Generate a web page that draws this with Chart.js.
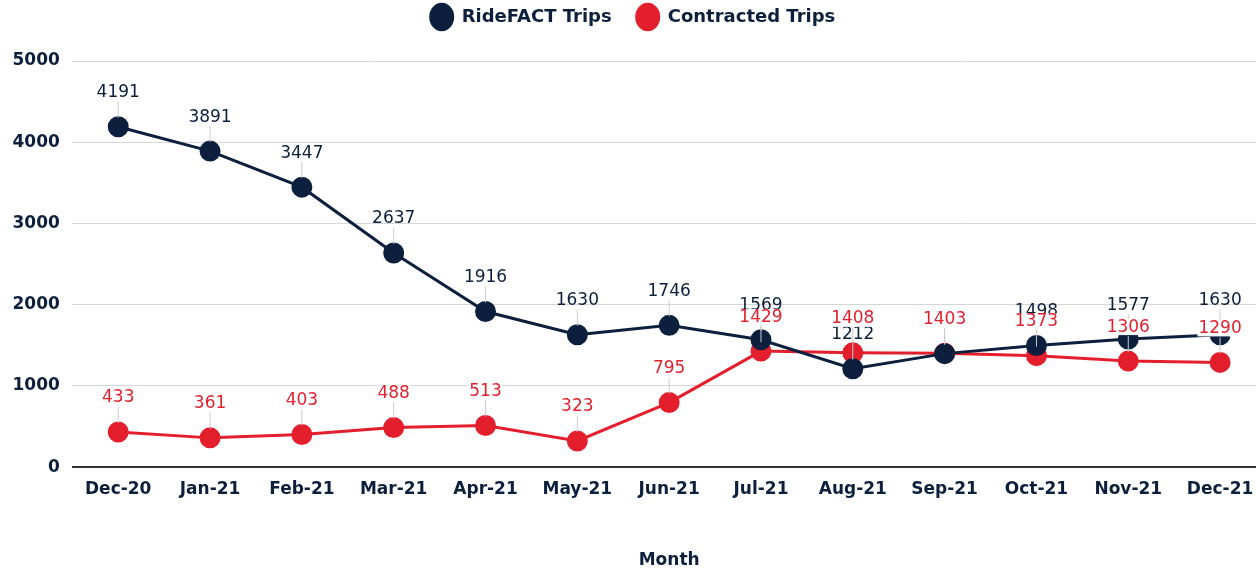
<!DOCTYPE html>
<html>
<head>
<meta charset="utf-8">
<script src="https://cdn.jsdelivr.net/npm/chart.js@4.4.1/dist/chart.umd.min.js"></script>
<style>
  html, body { margin: 0; padding: 0; background: #fff; overflow: hidden; }
</style>
</head>
<body>
<canvas id="myChart" width="1266" height="571"></canvas>
<script>
const months = ['Dec-20', 'Jan-21', 'Feb-21', 'Mar-21', 'Apr-21', 'May-21', 'Jun-21',
  'Jul-21', 'Aug-21', 'Sep-21', 'Oct-21', 'Nov-21', 'Dec-21'];
const rideFactTrips = [4191, 3891, 3447, 2637, 1916, 1630, 1746, 1569, 1212, 1398, 1498, 1577, 1630];
const contractedTrips = [433, 361, 403, 488, 513, 323, 795, 1429, 1408, 1403, 1373, 1306, 1290];

const navy = '#0c1f3d';
const red = '#e31f2d';

// value labels with a small leader line, red ones drawn on top with white box
const pointLabels = {
  id: 'pointLabels',
  afterDatasetsDraw(chart) {
    const ctx = chart.ctx;
    ctx.save();
    ctx.font = '17px "DejaVu Sans"';
    ctx.textAlign = 'center';
    ctx.textBaseline = 'middle';
    chart.data.datasets.forEach(function (ds, i) {
      const meta = chart.getDatasetMeta(i);
      meta.data.forEach(function (pt, j) {
        const txt = String(ds.data[j]);
        const ly = pt.y - 34;
        ctx.strokeStyle = '#cccccc';
        ctx.lineWidth = 1;
        ctx.beginPath();
        ctx.moveTo(pt.x, pt.y - 9);
        ctx.lineTo(pt.x, ly + 9);
        ctx.stroke();
        if (i === 1) {
          const w = ctx.measureText(txt).width;
          ctx.fillStyle = '#ffffff';
          ctx.fillRect(pt.x - w / 2 - 1, ly - 8, w + 2, 16);
        }
        ctx.fillStyle = ds.borderColor;
        ctx.fillText(txt, pt.x, ly);
      });
    });
    ctx.restore();
  }
};

// extra space between legend and plot
const legendGap = {
  id: 'legendGap',
  beforeInit(chart) {
    const fit = chart.legend.fit;
    chart.legend.fit = function () {
      fit.bind(chart.legend)();
      this.height += 25;
    };
  }
};

const config = {
  type: 'line',
  data: {
    labels: months,
    datasets: [{
      label: 'RideFACT Trips',
      data: rideFactTrips,
      borderColor: navy,
      backgroundColor: navy,
      borderWidth: 3,
      pointRadius: 9,
      pointHoverRadius: 9,
      tension: 0,
      fill: false
    }, {
      label: 'Contracted Trips',
      data: contractedTrips,
      borderColor: red,
      backgroundColor: red,
      borderWidth: 3,
      pointRadius: 9,
      pointHoverRadius: 9,
      tension: 0,
      fill: false
    }]
  },
  options: {
    responsive: false,
    animation: false,
    layout: { autoPadding: false, padding: { top: -17, left: 0, right: 0, bottom: 0 } },
    plugins: {
      legend: {
        position: 'top',
        labels: {
          usePointStyle: true,
          pointStyle: 'circle',
          pointStyleWidth: 22,
          padding: 25,
          color: navy,
          font: { family: 'DejaVu Sans', size: 18, weight: 'bold' }
        }
      },
      tooltip: { enabled: false }
    },
    scales: {
      x: {
        offset: true,
        grid: { display: false, drawTicks: false },
        border: { display: false },
        ticks: {
          color: navy,
          padding: 12,
          font: { family: 'DejaVu Sans', size: 17, weight: 'bold' }
        },
        title: {
          display: true,
          text: 'Month',
          color: navy,
          padding: { top: 39, bottom: 0 },
          font: { family: 'DejaVu Sans', size: 17, weight: 'bold' }
        }
      },
      y: {
        min: 0,
        max: 5000,
        ticks: {
          stepSize: 1000,
          color: navy,
          padding: 12.5,
          font: { family: 'DejaVu Sans', size: 17, weight: 'bold' },
          callback: function (v) { return String(v); }
        },
        grid: {
          drawTicks: false,
          color: function (c) { return c.tick.value === 0 ? '#333333' : '#d6d6d6'; },
          lineWidth: function (c) { return c.tick.value === 0 ? 2 : 1; }
        },
        border: { display: false }
      }
    }
  },
  plugins: [pointLabels, legendGap]
};

const ctx = document.getElementById('myChart').getContext('2d');
const chart = new Chart(ctx, config);
</script>
</body>
</html>
